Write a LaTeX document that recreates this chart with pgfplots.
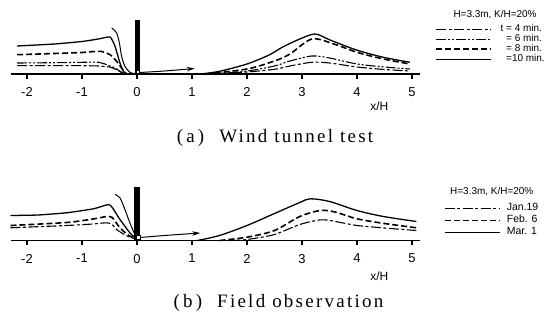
\documentclass[border=0pt]{standalone}
\usepackage{pgfplots}
\pgfplotsset{compat=1.18}
\usepackage{fontspec}
\setmainfont{Liberation Serif}
\setsansfont{Liberation Sans}
\newfontfamily\capfont[LetterSpace=12]{Liberation Serif}
\usetikzlibrary{arrows.meta}
\pgfplotsset{
  fenceplot/.style={
    scale only axis, width=409.75bp, height=60bp,
    xmin=-2.3, xmax=5.15, ymin=0, ymax=60,
    axis x line=bottom, axis y line=none, clip=false,
    x axis line style={-, line width=1.2pt},
    xtick={-2,-1,0,1,2,3,4,5}, xticklabels={-2,-1,0,1,2,3,4,5},
    xtick align=outside, major tick length=5bp,
    tick style={line width=1.1pt, black},
    xticklabel style={font=\sffamily\fontsize{13}{14}\selectfont, yshift=-5bp},
    xlabel={x/H},
  },
  s10/.style={black, line width=1.3pt, solid},
  s8/.style={black, line width=1.6pt, dash pattern=on 6bp off 3bp},
  s6/.style={black, line width=1.1pt, dash pattern=on 10bp off 2bp on 2bp off 2bp on 2bp off 2bp},
  s4/.style={black, line width=1.1pt, dash pattern=on 10bp off 2.5bp on 3bp off 2.5bp},
}
\begin{document}
\begin{tikzpicture}
\useasboundingbox (0,0) rectangle (555bp,320bp);
% ---------------- (a) ----------------
\begin{axis}[fenceplot, at={(10.5bp,246bp)}, anchor=south west,
  xlabel style={at={(axis description cs:0.9,0)}, anchor=north, yshift=-24bp,
                font=\sffamily\fontsize{12}{13}\selectfont},
  legend image code/.code={\draw[#1] (0bp,0bp) -- (55bp,0bp);},
  legend style={at={(axis description cs:1.037,0.833)}, anchor=north west,
    draw=none, fill=none, inner sep=0pt, column sep=7bp,
    font=\sffamily\fontsize{10}{11}\selectfont, cells={anchor=west},
    nodes={inner sep=1.5bp, text height=6bp, text depth=1bp}},
]
\addplot[s4, smooth, tension=0.4] coordinates {(-2.18,8.3) (-1.5,8.3) (-1,8.3) (-0.7,8) (-0.5,7) (-0.4,5) (-0.3,2) (-0.22,0)};
\addlegendentry{t = 4 min.}
\addplot[s6, smooth, tension=0.4] coordinates {(-2.18,11) (-1.5,11.3) (-1,11.7) (-0.7,11.7) (-0.55,9.3) (-0.4,6) (-0.28,1.7) (-0.2,0)};
\addlegendentry{\phantom{t }= 6 min.}
\addplot[s8, smooth, tension=0.4] coordinates {(-2.18,19.3) (-1.5,20.5) (-1,21.5) (-0.67,22.7) (-0.49,19.3) (-0.37,12.7) (-0.28,6) (-0.2,0)};
\addlegendentry{\phantom{t }= 8 min.}
\addplot[s10, smooth, tension=0.3] coordinates {(-2.18,28) (-1.5,30) (-1,32.5) (-0.7,35) (-0.49,37) (-0.4,27.7) (-0.31,11) (-0.25,2.7) (-0.17,0)};
\addlegendentry{\phantom{t }=10 min.}
% streamline
\addplot[black, line width=1pt, smooth, tension=0.5, forget plot] coordinates {(-0.46,46) (-0.37,41) (-0.32,31) (-0.28,17.7) (-0.22,7.7) (-0.13,1.7) (-0.05,0.5)};
% downstream
\addplot[s4, smooth, forget plot] coordinates {(1.4,0) (2,2) (2.5,4.7) (2.78,8) (3.18,11.7) (3.5,11) (4,7) (4.5,4.5) (4.96,3)};
\addplot[s6, smooth, forget plot] coordinates {(1.3,0) (2,3) (2.5,8) (2.78,13) (3.18,18) (3.5,16) (4,10) (4.5,7) (4.96,5)};
\addplot[s8, smooth, forget plot] coordinates {(1.25,0) (2,5) (2.5,13) (2.78,20) (3.18,35) (3.58,30) (4,21.7) (4.48,15) (4.96,10)};
\addplot[s10, smooth, forget plot] coordinates {(1.15,0) (1.5,2.7) (2,10) (2.4,19) (2.65,27) (2.96,35) (3.24,40) (3.51,34) (3.99,24) (4.48,16.7) (4.96,11.7)};
% fence
\addplot[fill=black, draw=black, line width=0.3pt, forget plot] coordinates {(-0.03,0) (-0.03,54) (0.03,54) (0.03,0)} -- cycle;
\addplot[fill=white, draw=black, line width=0.4pt, forget plot] coordinates {(-0.015,1) (-0.015,4) (0.04,4) (0.04,1)} -- cycle;
% arrow
\addplot[black, line width=1pt, smooth, -{Stealth[length=8bp,width=4.5bp]}, forget plot] coordinates {(0.05,1.5) (0.5,3) (1.05,5.5)};
\node[font=\sffamily\fontsize{10}{11}\selectfont] at (axis cs:6.51,59) {H=3.3m,\ K/H=20\%};
\end{axis}
% ---------------- (b) ----------------
\begin{axis}[fenceplot, at={(10.5bp,79.5bp)}, anchor=south west,
  xlabel style={at={(axis description cs:0.9,0)}, anchor=north, yshift=-28bp,
                font=\sffamily\fontsize{12}{13}\selectfont},
  legend image code/.code={\draw[#1] (0bp,0bp) -- (55bp,0bp);},
  legend style={at={(axis description cs:1.057,0.637)}, anchor=north west,
    draw=none, fill=none, inner sep=0pt, column sep=5bp,
    font=\sffamily\fontsize{10.5}{11}\selectfont, cells={anchor=west},
    nodes={inner sep=1.5bp, text height=7bp, text depth=2bp}},
]
\addplot[s4, smooth, tension=0.4] coordinates {(-2.3,12.7) (-1.28,15) (-0.8,16.5) (-0.55,17.7) (-0.45,16) (-0.37,11) (-0.2,5) (0,1)};
\addlegendentry{Jan.19}
\addplot[s8, smooth, tension=0.4] coordinates {(-2.3,15) (-1.28,18) (-0.8,21.5) (-0.52,24.3) (-0.45,23) (-0.31,12.7) (-0.15,5) (0,1)};
\addlegendentry{Feb. 6}
\addplot[s10, smooth, tension=0.3] coordinates {(-2.3,25) (-1.8,25.5) (-1.28,27.7) (-0.79,31.7) (-0.52,36) (-0.45,33) (-0.31,21) (-0.13,7.7) (0,1)};
\addlegendentry{Mar. 1}
% streamline
\addplot[black, line width=1pt, smooth, tension=0.5, forget plot] coordinates {(-0.4,46) (-0.31,42.7) (-0.22,31) (-0.13,17.7) (-0.04,6) (0,1.7)};
% downstream
\addplot[s4, smooth, forget plot] coordinates {(1.7,0) (2,1) (2.5,6) (2.96,16) (3.36,20.7) (3.7,18) (4,15) (4.5,12.5) (5.08,10)};
\addplot[s8, smooth, forget plot] coordinates {(1.5,0) (2,3.3) (2.5,10) (2.96,24) (3.33,30) (3.6,28.5) (4,21.7) (4.5,17) (5.08,12.7)};
\addplot[s10, smooth, forget plot] coordinates {(1.1,0) (1.5,5) (2,15) (2.5,27) (2.96,38) (3.15,41.7) (3.5,39) (4,30) (4.48,24) (5.08,19)};
% fence
\addplot[fill=black, draw=black, line width=0.3pt, forget plot] coordinates {(-0.045,0) (-0.045,53) (0.045,53) (0.045,0)} -- cycle;
\addplot[fill=white, draw=black, line width=0.4pt, forget plot] coordinates {(-0.02,1.5) (-0.02,5.5) (0.05,5.5) (0.05,1.5)} -- cycle;
% arrow
\addplot[black, line width=1pt, smooth, -{Stealth[length=8bp,width=4.5bp]}, forget plot] coordinates {(0.06,3) (0.5,5) (1.15,7.5)};
\node[font=\sffamily\fontsize{10}{11}\selectfont] at (axis cs:6.45,48.5) {H=3.3m,\ K/H=20\%};
\end{axis}
% captions
\node[font=\capfont\fontsize{19}{21}\selectfont] at (275bp,182bp) {(\,a\,)\hspace{0.8em}Wind tunnel test};
\node[font=\capfont\fontsize{19}{21}\selectfont] at (278.5bp,17bp) {(\,b\,)\hspace{0.8em}Field observation};
\end{tikzpicture}
\end{document}
